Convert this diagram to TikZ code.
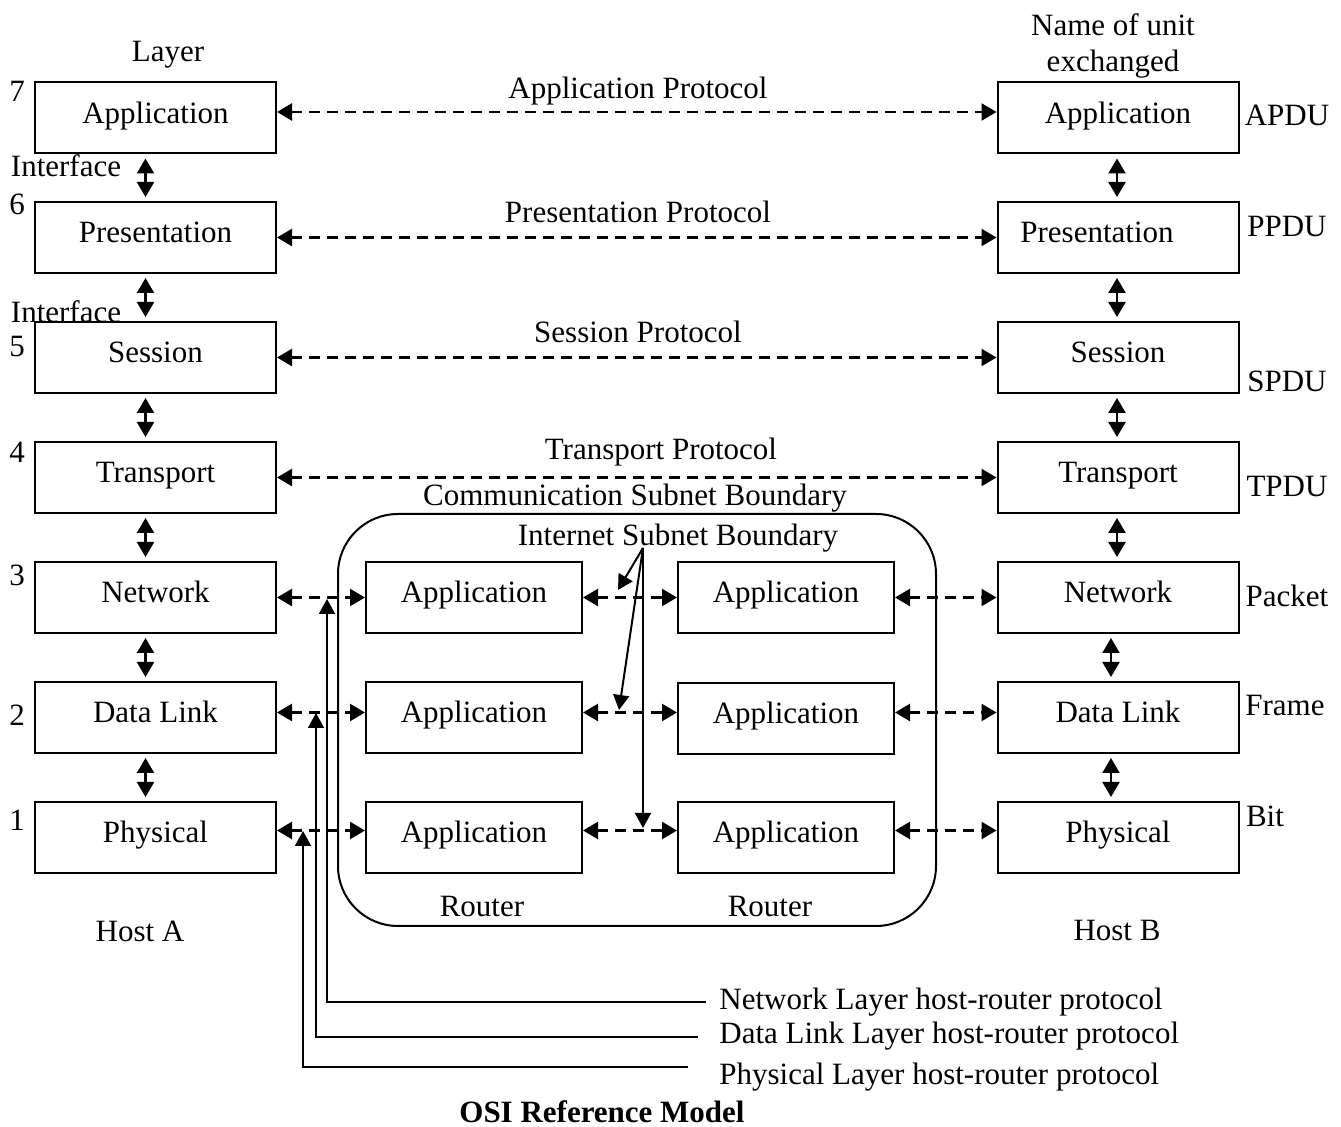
\documentclass[tikz,border=0pt]{standalone}
\usepackage{fontspec}
\setmainfont{Liberation Serif}
\usetikzlibrary{arrows.meta,calc}
\begin{document}
\begin{tikzpicture}[x=0.5pt,y=-0.5pt,
  font=\fontsize{15.5}{18}\selectfont,
  hbox/.style={draw,line width=1pt,minimum width=120.5pt,minimum height=35.5pt,inner sep=0pt,text height=10.5pt,text depth=5pt},
  rbox/.style={hbox,minimum width=108pt},
  tipline/.style={line width=1pt,-{Triangle[length=7.5pt,width=8pt]}},
  dbl/.style={line width=1.1pt,{Triangle[length=7.5pt,width=8.5pt]}-{Triangle[length=7.5pt,width=8.5pt]},shorten <=2pt,shorten >=2pt},
  dasharr/.style={line width=1.2pt,{Triangle[length=7.5pt,width=8.5pt]}-{Triangle[length=7.5pt,width=8.5pt]},dash pattern=on 5.5pt off 3.5pt},
  lbl/.style={inner sep=0pt}]
\useasboundingbox (0,0) rectangle (1341,1127);

% subnet boundary
\node[draw,line width=1pt,rounded corners=30pt,minimum width=299pt,minimum height=206pt,inner sep=0pt] (subnet) at (637,720) {};

% Host A boxes
\node[hbox] (appL) at (155.5,118) {Application};
\node[hbox] (preL) at (155.5,237.5) {Presentation};
\node[hbox] (sesL) at (155.5,357.5) {Session};
\node[hbox] (traL) at (155.5,477.5) {Transport};
\node[hbox] (netL) at (155.5,597.5) {Network};
\node[hbox] (dllL) at (155.5,717.5) {Data Link};
\node[hbox] (phyL) at (155.5,837.5) {Physical};

% Host B boxes
\node[hbox] (appR) at (1118,118) {Application};
\node[hbox] (preR) at (1118,237.5) {\hspace*{-21pt}Presentation};
\node[hbox] (sesR) at (1118,357.5) {Session};
\node[hbox] (traR) at (1118,477.5) {Transport};
\node[hbox] (netR) at (1118,597.5) {Network};
\node[hbox] (dllR) at (1118,717.5) {Data Link};
\node[hbox] (phyR) at (1118,837.5) {Physical};

% Router boxes
\node[rbox] (r1a) at (474,597.5) {Application};
\node[rbox] (r1b) at (474,717.5) {Application};
\node[rbox] (r1c) at (474,837.5) {Application};
\node[rbox] (r2a) at (786,597.5) {Application};
\node[rbox] (r2b) at (786,718.5) {Application};
\node[rbox] (r2c) at (786,837.5) {Application};

% vertical interface arrows
\foreach \a/\b in {appL/preL,preL/sesL,sesL/traL,traL/netL,netL/dllL,dllL/phyL}
  \draw[dbl] ([xshift=-5pt]\a.south) -- ([xshift=-5pt]\b.north);
\foreach \a/\b in {appR/preR,preR/sesR,sesR/traR,traR/netR}
  \draw[dbl] ([xshift=-0.5pt]\a.south) -- ([xshift=-0.5pt]\b.north);
\foreach \a/\b in {netR/dllR,dllR/phyR}
  \draw[dbl] ([xshift=-3.5pt]\a.south) -- ([xshift=-3.5pt]\b.north);

% peer protocols
\draw[dasharr] ([yshift=3pt]appL.east) -- ([yshift=3pt]appR.west);
\draw[dasharr] (preL.east) -- (preR.west);
\draw[dasharr] (sesL.east) -- (sesR.west);
\draw[dasharr] (traL.east) -- (traR.west);

\draw[dasharr] (netL.east) -- (r1a.west);
\draw[dasharr] (r1a.east) -- (r2a.west);
\draw[dasharr] (r2a.east) -- (netR.west);
\draw[dasharr] ([yshift=2.5pt]dllL.east) -- ([yshift=2.5pt]r1b.west);
\draw[dasharr] ([yshift=2.5pt]r1b.east) -- ([yshift=3pt]r2b.west);
\draw[dasharr] ([yshift=3pt]r2b.east) -- ([yshift=2.5pt]dllR.west);
\draw[dasharr] ([yshift=3.5pt]phyL.east) -- ([yshift=3.5pt]r1c.west);
\draw[dasharr] ([yshift=3.5pt]r1c.east) -- ([yshift=3.5pt]r2c.west);
\draw[dasharr] ([yshift=3.5pt]r2c.east) -- ([yshift=3.5pt]phyR.west);

% labels
\node[lbl] (layer) at (168,55) {Layer};
\node[lbl,align=center] (unitname) at (1113,46) {Name of unit\\exchanged};
\node[lbl] (n7) at (17,91) {7};
\node[lbl] (n6) at (17,204) {6};
\node[lbl] (n5) at (17,347) {5};
\node[lbl] (n4) at (17,452) {4};
\node[lbl] (n3) at (17,575) {3};
\node[lbl] (n2) at (17,715) {2};
\node[lbl] (n1) at (17,820) {1};
\node[lbl] (if1) at (66,166) {Interface};
\node[lbl] (if2) at (66,312) {Interface};

\node[lbl] (pApp) at (638,91) {Application Protocol};
\node[lbl] (pPre) at (638,212) {Presentation Protocol};
\node[lbl] (pSes) at (638,332) {Session Protocol};
\node[lbl] (pTra) at (661,452) {Transport Protocol};
\node[lbl] (csb) at (635,498) {Communication Subnet Boundary};
\node[lbl] (isbl) at (678,538) {Internet Subnet Boundary};

\node[lbl] (uA) at (1287,115) {APDU};
\node[lbl] (uP) at (1287,227) {PPDU};
\node[lbl] (uS) at (1287,381) {SPDU};
\node[lbl] (uT) at (1287,487) {TPDU};
\node[lbl] (uN) at (1287,596) {Packet};
\node[lbl] (uD) at (1285,706) {Frame};
\node[lbl] (uB) at (1265,816) {Bit};

\node[lbl] (rt1) at (482,907) {Router};
\node[lbl] (rt2) at (770,907) {Router};
\node[lbl] (hA) at (140,931) {Host A};
\node[lbl] (hB) at (1117,931) {Host B};

% internet subnet boundary pointers
\coordinate (isb) at (643,548);
\coordinate (isbA) at (618,590);
\coordinate (isbB) at (619,710);
\coordinate (isbC) at (643,828);
\draw[tipline] (isb) -- (isbA);
\draw[tipline] (isb) -- (isbB);
\draw[tipline] (isb) -- (isbC);

% host-router protocol pointers
\node[lbl,anchor=west] (lNet) at (719,1002) {Network Layer host-router protocol};
\node[lbl,anchor=west] (lDll) at (719,1036) {Data Link Layer host-router protocol};
\node[lbl,anchor=west] (lPhy) at (719,1077) {Physical Layer host-router protocol};
\coordinate (eNet) at (706,1002);
\coordinate (eDll) at (698,1037);
\coordinate (ePhy) at (688,1067);
\coordinate (tNet) at (327,599);
\coordinate (tDll) at (316,713);
\coordinate (tPhy) at (303,831);
\draw[tipline] (eNet) -| (tNet);
\draw[tipline] (eDll) -| (tDll);
\draw[tipline] (ePhy) -| (tPhy);

\node[lbl,font=\fontsize{15.5}{18}\selectfont\bfseries] (title) at (602,1112) {OSI Reference Model};
\end{tikzpicture}
\end{document}
